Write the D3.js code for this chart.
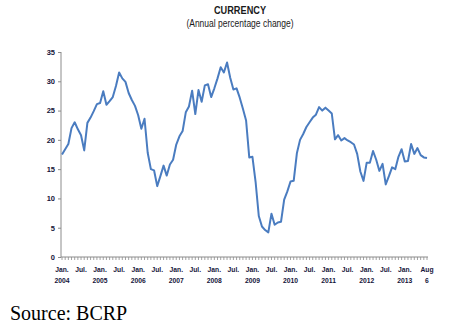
<!DOCTYPE html>
<html><head><meta charset="utf-8">
<script src="https://cdn.jsdelivr.net/npm/d3@7"></script>
<style>
body{margin:0;background:#fff;}
svg{display:block;}
</style></head>
<body>
<script>
const values = [
17.5,18.4,19.3,22.0,23.0,21.8,20.8,18.2,22.9,23.8,24.9,26.1,
26.3,28.3,26.0,26.6,27.3,29.2,31.5,30.5,29.9,28.0,26.8,25.8,
24.2,21.9,23.6,17.8,15.0,14.8,12.1,13.8,15.6,13.9,15.8,16.6,
19.2,20.6,21.5,24.7,25.7,28.4,24.4,28.5,26.5,29.3,29.5,27.3,
28.8,30.5,32.4,31.5,33.2,30.6,28.6,28.8,27.2,25.3,23.3,17.0,
17.1,12.8,7.0,5.2,4.6,4.2,7.4,5.5,5.9,6.0,9.8,11.2,
12.9,13.0,17.7,20.0,21.0,22.2,23.0,23.8,24.3,25.6,25.0,25.5,
25.0,24.5,20.1,20.8,19.9,20.3,19.9,19.6,19.2,17.6,14.6,13.0,
16.1,16.1,18.1,16.6,14.7,15.9,12.4,13.8,15.3,15.0,17.1,18.4,
16.3,16.4,19.3,17.6,18.6,17.4,17.0,16.9
];
const yTicks = [0,5,10,15,20,25,30,35];
const xLabelIdx = [0,6,12,18,24,30,36,42,48,54,60,66,72,78,84,90,96,102,108,115];
const xLabelTop = ["Jan.","Jul.","Jan.","Jul.","Jan.","Jul.","Jan.","Jul.","Jan.","Jul.","Jan.","Jul.","Jan.","Jul.","Jan.","Jul.","Jan.","Jul.","Jan.","Aug"];
const xLabelBottom = ["2004","","2005","","2006","","2007","","2008","","2009","","2010","","2011","","2012","","2013","6"];
const title = "CURRENCY";
const subtitle = "(Annual percentage change)";
const source = "Source: BCRP";

const W = 457, H = 329;
const svg = d3.select("body").append("svg").attr("width", W).attr("height", H);
const narrow = "'Liberation Sans Narrow','Arial Narrow','Liberation Sans',Arial,sans-serif";

const x = d3.scaleLinear().domain([0, values.length - 1]).range([62, 427]);
const y = d3.scaleLinear().domain([0, 35]).range([257, 52]);

svg.append("text").attr("transform", "translate(240,14) scale(0.8,1)").attr("text-anchor", "middle")
  .attr("font-family", narrow).attr("font-weight", "bold").attr("font-size", 11.5)
  .attr("fill", "#1a1a1a").text(title);
svg.append("text").attr("transform", "translate(240,27) scale(0.81,1)").attr("text-anchor", "middle")
  .attr("font-family", narrow).attr("font-size", 10.5)
  .attr("fill", "#1a1a1a").text(subtitle);

// Y axis
const yAxis = d3.axisLeft(y).tickValues(yTicks).tickSize(3).tickPadding(3);
const gy = svg.append("g").attr("transform", "translate(61,0)").call(yAxis);
gy.select(".domain").attr("stroke", "#8c8c8c").attr("d", "M0," + y(35) + "V" + y(0));
gy.selectAll(".tick line").attr("stroke", "#8c8c8c");
gy.selectAll(".tick text").attr("font-family", narrow).attr("font-size", 7.5)
  .attr("fill", "#15153a").attr("font-weight", "bold");

// X axis with monthly ticks
const gx = svg.append("g").attr("transform", "translate(0," + y(0) + ")");
gx.append("line").attr("x1", 61).attr("x2", x(values.length - 1) + 1).attr("y1", 0).attr("y2", 0)
  .attr("stroke", "#8c8c8c").attr("stroke-width", 1.2);
gx.selectAll("line.mt").data(d3.range(values.length)).join("line").attr("class", "mt")
  .attr("x1", d => x(d)).attr("x2", d => x(d)).attr("y1", 0).attr("y2", 3)
  .attr("stroke", "#8c8c8c").attr("stroke-width", 0.8);
const lbl = gx.selectAll("g.lb").data(xLabelIdx).join("g").attr("class", "lb")
  .attr("transform", d => "translate(" + x(d) + ",0) scale(0.9,1)");
lbl.append("text").attr("y", 15).attr("text-anchor", "middle")
  .attr("font-family", narrow).attr("font-size", 7.5).attr("font-weight", "bold").attr("fill", "#15153a")
  .text((d, i) => xLabelTop[i]);
lbl.append("text").attr("y", 26).attr("text-anchor", "middle")
  .attr("font-family", narrow).attr("font-size", 7.5).attr("font-weight", "bold").attr("fill", "#15153a")
  .text((d, i) => xLabelBottom[i]);

// Line
const line = d3.line().x((d, i) => x(i)).y(d => y(d));
svg.append("path").datum(values).attr("d", line).attr("fill", "none")
  .attr("stroke", "#4a7cc0").attr("stroke-width", 2).attr("stroke-linejoin", "round");

svg.append("text").attr("x", 10).attr("y", 320)
  .attr("font-family", "'Liberation Serif','Times New Roman',serif").attr("font-size", 20)
  .attr("fill", "#000").text(source);
</script>
</body></html>
